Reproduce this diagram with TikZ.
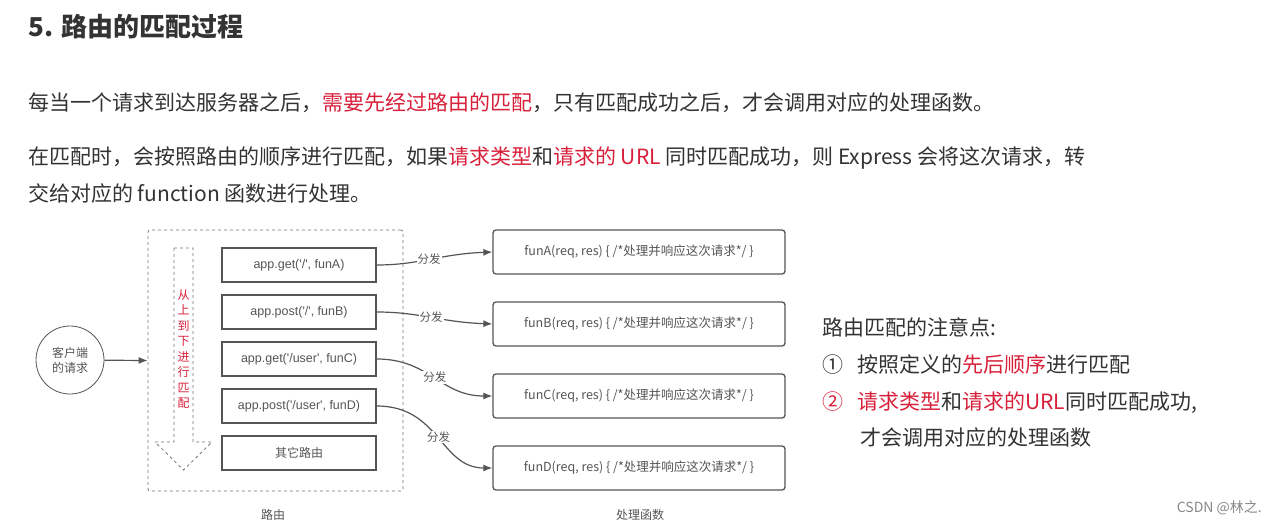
\documentclass[tikz,border=0pt]{standalone}
\usepackage{fontspec}
\setmainfont{Noto Sans CJK SC}
\newfontfamily\lat{Liberation Sans}[Ligatures=NoCommon]
\usetikzlibrary{arrows.meta}
\definecolor{txt}{HTML}{333333}
\definecolor{hl}{HTML}{D8203A}
\definecolor{dg}{HTML}{555555}
\newcommand{\q}{\symbol{"0027}}
\begin{document}
\begin{tikzpicture}[x=1pt,y=-1pt,
  rbox/.style={draw=dg,line width=1.3pt,minimum width=154pt,minimum height=34pt,inner sep=0pt,font=\lat\fontsize{12.5}{14}\selectfont,text=dg},
  fbox/.style={draw=dg,line width=1.3pt,rounded corners=3pt,minimum width=292pt,minimum height=44pt,inner sep=0pt,font=\fontsize{12.5}{14}\selectfont,text=dg},
  lab/.style={font=\fontsize{11.5}{13}\selectfont,text=dg,fill=white,inner sep=1pt},
  conn/.style={draw=dg,line width=1.2pt,-{Latex[length=9pt,width=7pt]}},
  body/.style={anchor=west,inner sep=0pt,font=\fontsize{21}{25}\selectfont,text=txt}]
\useasboundingbox (0,0) rectangle (1274,527);
\fill[white] (0,0) rectangle (1274,527);
\node[anchor=west,inner sep=0pt,font=\fontsize{26}{30}\selectfont\bfseries,text=txt] (title) at (28,27) {5. 路由的匹配过程};
\node[body] (l1) at (28,103) {每当一个请求到达服务器之后，\textcolor{hl}{需要先经过路由的匹配}，只有匹配成功之后，才会调用对应的处理函数。};
\node[body] (l2) at (28,158) {在匹配时，会按照路由的顺序进行匹配，如果\textcolor{hl}{请求类型}和\textcolor{hl}{请求的 URL} 同时匹配成功，则 Express 会将这次请求，转};
\node[body] (l3) at (28,193) {交给对应的 function 函数进行处理。};
% dashed container
\node[draw=dg!80,dashed,line width=0.8pt,rounded corners=2pt,minimum width=255pt,minimum height=261pt,inner sep=0pt] (route) at (275.5,360.5) {};
\node[draw=dg,line width=0.8pt,circle,minimum size=68pt,inner sep=0pt,align=center,font=\fontsize{12}{15}\selectfont,text=dg] (client) at (70,360) {客户端\\的请求};
\draw[conn] (client) -- (route.west);
% dashed arrow
\draw[dg!80,dashed,line width=0.8pt] (174,248) -- (193,248) -- (193,442) -- (212,442) -- (183.5,470) -- (155,442) -- (174,442) -- cycle;
\node[align=center,font=\fontsize{12}{15.5}\selectfont,text=hl,inner sep=0pt] (order) at (183.5,349) {从\\上\\到\\下\\进\\行\\匹\\配};
% routes
\node[rbox] (r1) at (299,265) {app.get(\q/\q, funA)};
\node[rbox] (r2) at (299,312) {app.post(\q/\q, funB)};
\node[rbox] (r3) at (299,359) {app.get(\q/user\q, funC)};
\node[rbox] (r4) at (299,406) {app.post(\q/user\q, funD)};
\node[rbox,font=\fontsize{12}{14}\selectfont] (r5) at (299,453) {其它路由};
% functions
\node[fbox] (f1) at (639,252) {funA(req, res) \{ /*处理并响应这次请求*/ \}};
\node[fbox] (f2) at (639,324) {funB(req, res) \{ /*处理并响应这次请求*/ \}};
\node[fbox] (f3) at (639,396) {funC(req, res) \{ /*处理并响应这次请求*/ \}};
\node[fbox] (f4) at (639,468) {funD(req, res) \{ /*处理并响应这次请求*/ \}};
\draw[conn] (r1.east) .. controls (420,265) and (440,254) .. node[lab,pos=0.48]{分发} (f1.west);
\draw[conn] (r2.east) .. controls (420,312) and (440,322) .. node[lab,pos=0.5]{分发} (f2.west);
\draw[conn] (r3.east) .. controls (430,359) and (440,396) .. node[lab,pos=0.5]{分发} (f3.west);
\draw[conn] (r4.east) .. controls (440,406) and (440,468) .. node[lab,pos=0.5]{分发} (f4.west);
\node[font=\fontsize{12}{14}\selectfont,text=dg] (rl) at (273,515) {路由};
\node[font=\fontsize{12}{14}\selectfont,text=dg] (fl) at (640,515) {处理函数};
% notes
\node[body] (n0) at (822,327) {路由匹配的注意点:};
\node[body] (n1) at (822,365) {①\hspace{14pt}按照定义的\textcolor{hl}{先后顺序}进行匹配};
\node[body] (n2) at (822,403) {\textcolor{hl}{②}\hspace{14pt}\textcolor{hl}{请求类型}和\textcolor{hl}{请求的URL}同时匹配成功,};
\node[body] (n3) at (860,438) {才会调用对应的处理函数};
\node[anchor=east,inner sep=0pt,font=\fontsize{14}{16}\selectfont,text=dg!70] (csdn) at (1262,508) {CSDN @林之.};
\end{tikzpicture}
\end{document}
